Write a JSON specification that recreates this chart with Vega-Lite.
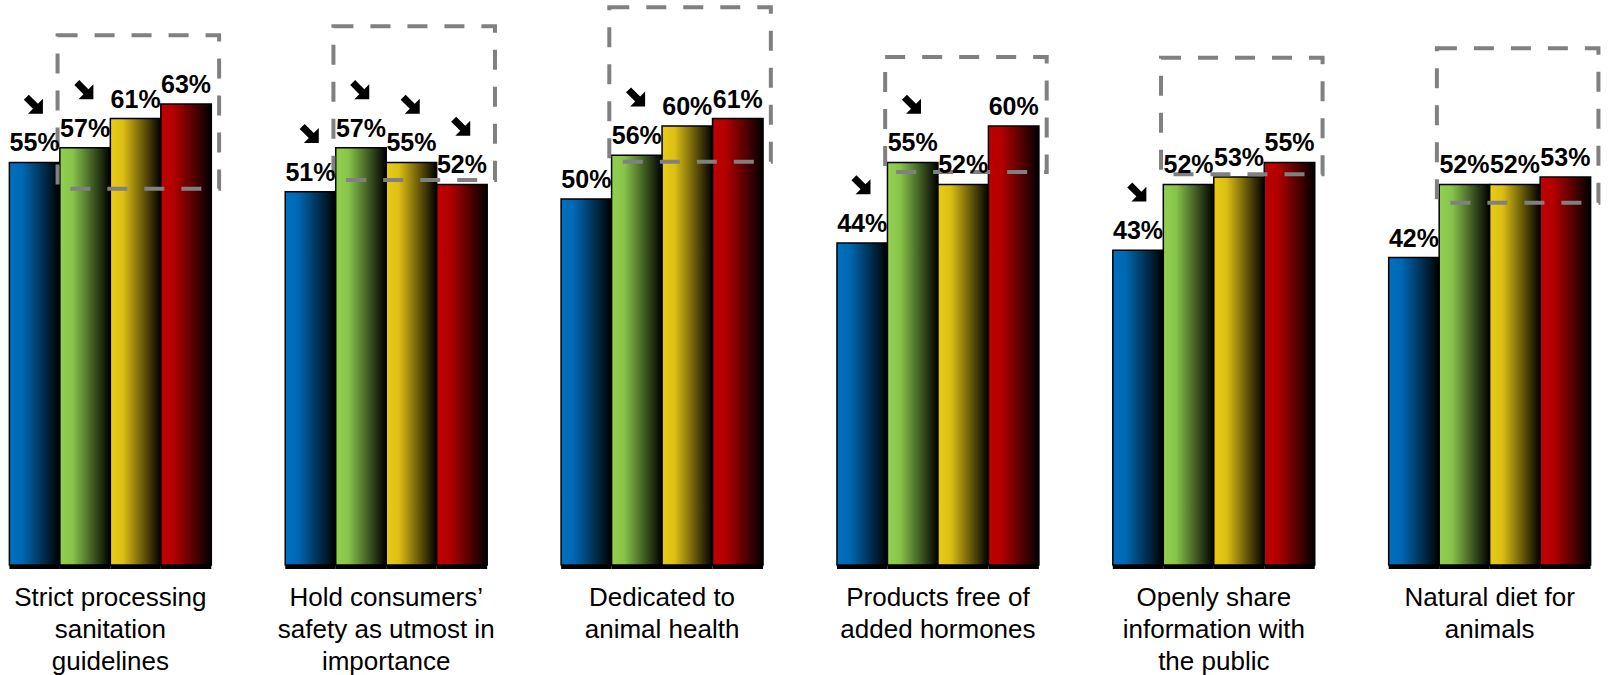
{
  "$schema": "https://vega.github.io/schema/vega-lite/v6.json",
  "width": 1600,
  "height": 565,
  "autosize": "none",
  "padding": {"left": 0, "top": 0, "right": 14, "bottom": 110},
  "background": "white",
  "config": {"view": {"stroke": null}, "font": "Liberation Sans"},
  "datasets": {
    "bars": [
      {"category": "Strict processing sanitation guidelines", "series": "S1", "value": 0.55, "arrow": true},
      {"category": "Strict processing sanitation guidelines", "series": "S2", "value": 0.57, "arrow": true},
      {"category": "Strict processing sanitation guidelines", "series": "S3", "value": 0.61, "arrow": false},
      {"category": "Strict processing sanitation guidelines", "series": "S4", "value": 0.63, "arrow": false},
      {"category": "Hold consumers’ safety as utmost in importance", "series": "S1", "value": 0.51, "arrow": true},
      {"category": "Hold consumers’ safety as utmost in importance", "series": "S2", "value": 0.57, "arrow": true},
      {"category": "Hold consumers’ safety as utmost in importance", "series": "S3", "value": 0.55, "arrow": true},
      {"category": "Hold consumers’ safety as utmost in importance", "series": "S4", "value": 0.52, "arrow": true},
      {"category": "Dedicated to animal health", "series": "S1", "value": 0.50, "arrow": false},
      {"category": "Dedicated to animal health", "series": "S2", "value": 0.56, "arrow": true},
      {"category": "Dedicated to animal health", "series": "S3", "value": 0.60, "arrow": false},
      {"category": "Dedicated to animal health", "series": "S4", "value": 0.61, "arrow": false},
      {"category": "Products free of added hormones", "series": "S1", "value": 0.44, "arrow": true},
      {"category": "Products free of added hormones", "series": "S2", "value": 0.55, "arrow": true},
      {"category": "Products free of added hormones", "series": "S3", "value": 0.52, "arrow": false},
      {"category": "Products free of added hormones", "series": "S4", "value": 0.60, "arrow": false},
      {"category": "Openly share information with the public", "series": "S1", "value": 0.43, "arrow": true},
      {"category": "Openly share information with the public", "series": "S2", "value": 0.52, "arrow": false},
      {"category": "Openly share information with the public", "series": "S3", "value": 0.53, "arrow": false},
      {"category": "Openly share information with the public", "series": "S4", "value": 0.55, "arrow": false},
      {"category": "Natural diet for animals", "series": "S1", "value": 0.42, "arrow": false},
      {"category": "Natural diet for animals", "series": "S2", "value": 0.52, "arrow": false},
      {"category": "Natural diet for animals", "series": "S3", "value": 0.52, "arrow": false},
      {"category": "Natural diet for animals", "series": "S4", "value": 0.53, "arrow": false}
    ],
    "boxes": [
      {"category": "Strict processing sanitation guidelines", "low": 0.514, "high": 0.724},
      {"category": "Hold consumers’ safety as utmost in importance", "low": 0.526, "high": 0.736},
      {"category": "Dedicated to animal health", "low": 0.551, "high": 0.762},
      {"category": "Products free of added hormones", "low": 0.537, "high": 0.694},
      {"category": "Openly share information with the public", "low": 0.534, "high": 0.693},
      {"category": "Natural diet for animals", "low": 0.495, "high": 0.706}
    ]
  },
  "data": {"name": "bars"},
  "encoding": {
    "x": {
      "field": "category",
      "type": "nominal",
      "sort": null,
      "title": null,
      "scale": {"paddingInner": 0.268, "paddingOuter": 0.034},
      "axis": {
        "domain": false,
        "ticks": false,
        "tickSize": 0,
        "grid": false,
        "labelAngle": 0,
        "labelFont": "Liberation Sans",
        "labelFontSize": 26,
        "labelColor": "black",
        "labelLineHeight": 32,
        "labelPadding": 19,
        "labelLimit": 400,
        "labelExpr": "({'Strict processing sanitation guidelines': ['Strict processing', 'sanitation', 'guidelines'], 'Hold consumers’ safety as utmost in importance': ['Hold consumers’', 'safety as utmost in', 'importance'], 'Dedicated to animal health': ['Dedicated to', 'animal health'], 'Products free of added hormones': ['Products free of', 'added hormones'], 'Openly share information with the public': ['Openly share', 'information with', 'the public'], 'Natural diet for animals': ['Natural diet for', 'animals']})[datum.value]"
      }
    },
    "y": {
      "field": "value",
      "type": "quantitative",
      "title": null,
      "axis": null,
      "scale": {"domain": [0, 0.772], "nice": false, "zero": true}
    }
  },
  "layer": [
    {
      "mark": {"type": "bar", "color": "#000000", "xOffset": 6, "yOffset": 4},
      "encoding": {
        "xOffset": {"field": "series", "type": "nominal", "scale": {"domain": ["S1", "S2", "S3", "S4"], "paddingInner": 0, "paddingOuter": 0}}
      }
    },
    {
      "transform": [{"filter": "datum.series == 'S1'"}],
      "mark": {"type": "bar", "stroke": "#000000", "strokeWidth": 1.5,
        "fill": {"gradient": "linear", "x1": 0, "y1": 0, "x2": 1, "y2": 0,
          "stops": [{"offset": 0, "color": "#0070C0"}, {"offset": 0.25, "color": "#0068b3"}, {"offset": 1, "color": "#000000"}]}},
      "encoding": {
        "xOffset": {"field": "series", "type": "nominal", "scale": {"domain": ["S1", "S2", "S3", "S4"], "paddingInner": 0, "paddingOuter": 0}}
      }
    },
    {
      "transform": [{"filter": "datum.series == 'S2'"}],
      "mark": {"type": "bar", "stroke": "#000000", "strokeWidth": 1.5,
        "fill": {"gradient": "linear", "x1": 0, "y1": 0, "x2": 1, "y2": 0,
          "stops": [{"offset": 0, "color": "#92D050"}, {"offset": 0.25, "color": "#88c44a"}, {"offset": 1, "color": "#000000"}]}},
      "encoding": {
        "xOffset": {"field": "series", "type": "nominal", "scale": {"domain": ["S1", "S2", "S3", "S4"], "paddingInner": 0, "paddingOuter": 0}}
      }
    },
    {
      "transform": [{"filter": "datum.series == 'S3'"}],
      "mark": {"type": "bar", "stroke": "#000000", "strokeWidth": 1.5,
        "fill": {"gradient": "linear", "x1": 0, "y1": 0, "x2": 1, "y2": 0,
          "stops": [{"offset": 0, "color": "#EACB16"}, {"offset": 0.25, "color": "#dcbf14"}, {"offset": 1, "color": "#000000"}]}},
      "encoding": {
        "xOffset": {"field": "series", "type": "nominal", "scale": {"domain": ["S1", "S2", "S3", "S4"], "paddingInner": 0, "paddingOuter": 0}}
      }
    },
    {
      "transform": [{"filter": "datum.series == 'S4'"}],
      "mark": {"type": "bar", "stroke": "#000000", "strokeWidth": 1.5,
        "fill": {"gradient": "linear", "x1": 0, "y1": 0, "x2": 1, "y2": 0,
          "stops": [{"offset": 0, "color": "#C00000"}, {"offset": 0.25, "color": "#b40000"}, {"offset": 1, "color": "#000000"}]}},
      "encoding": {
        "xOffset": {"field": "series", "type": "nominal", "scale": {"domain": ["S1", "S2", "S3", "S4"], "paddingInner": 0, "paddingOuter": 0}}
      }
    },
    {
      "data": {"name": "boxes"},
      "mark": {"type": "bar", "width": {"band": 0.8}, "xOffset": 28, "fillOpacity": 0, "fill": "white", "stroke": "#808080", "strokeWidth": 4, "strokeDash": [20, 17]},
      "encoding": {
        "y": {"field": "high", "type": "quantitative"},
        "y2": {"field": "low"}
      }
    },
    {
      "mark": {"type": "text", "font": "Liberation Sans", "fontSize": 25, "fontWeight": "bold", "baseline": "alphabetic", "align": "center", "dy": -11, "color": "#000000"},
      "encoding": {
        "xOffset": {"field": "series", "type": "nominal", "scale": {"domain": ["S1", "S2", "S3", "S4"], "paddingInner": 0, "paddingOuter": 0}},
        "text": {"field": "value", "type": "quantitative", "format": ".0%"}
      }
    },
    {
      "transform": [{"filter": "datum.arrow"}],
      "mark": {"type": "point", "filled": true, "color": "#000000", "opacity": 1, "size": 550, "angle": 45, "xOffset": -6, "yOffset": -57,
        "shape": "M-1,-0.3L0.1,-0.3L0.1,-0.9L1,0L0.1,0.9L0.1,0.3L-1,0.3Z"},
      "encoding": {
        "xOffset": {"field": "series", "type": "nominal", "scale": {"domain": ["S1", "S2", "S3", "S4"], "paddingInner": 0, "paddingOuter": 0}}
      }
    }
  ]
}
